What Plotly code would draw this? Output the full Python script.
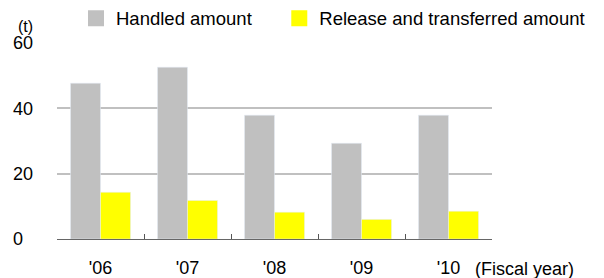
import plotly.graph_objects as go

years = ["'06", "'07", "'08", "'09", "'10"]
handled = [47.7, 52.6, 37.9, 29.3, 37.9]
released = [14.3, 11.8, 8.2, 6.0, 8.5]
y_ticks = [0, 20, 40, 60]
y_tick_text = ["0\u2007", "20", "40", "60"]

GREY = "#c0c0c0"
YELLOW = "#ffff00"
FONT = "Liberation Sans, Arial, sans-serif"

fig = go.Figure()
fig.add_trace(go.Bar(x=years, y=handled, marker_color=GREY, name="Handled amount",
                     showlegend=False))
fig.add_trace(go.Bar(x=years, y=released, marker_color=YELLOW,
                     name="Release and transferred amount", showlegend=False))
# legend entries
fig.add_trace(go.Scatter(x=[None], y=[None], mode="markers", name="Handled amount",
                         marker=dict(symbol="square", size=16, color=GREY),
                         legend="legend"))
fig.add_trace(go.Scatter(x=[None], y=[None], mode="markers",
                         name="Release and transferred amount",
                         marker=dict(symbol="square", size=16, color=YELLOW),
                         legend="legend2"))

leg_common = dict(orientation="h", yanchor="middle", y=1.124, xanchor="left",
                  font=dict(size=18.5), bgcolor="rgba(0,0,0,0)")

fig.update_layout(
    width=604, height=278,
    margin=dict(l=57, r=112, t=43, b=39, autoexpand=False),
    paper_bgcolor="white", plot_bgcolor="white",
    barmode="group", bargap=0.31, bargroupgap=0,
    font=dict(family=FONT, size=18, color="#000"),
    legend=dict(x=0.0437, **leg_common),
    legend2=dict(x=0.511, **leg_common),
    xaxis=dict(showgrid=False, ticks="inside", tickson="boundaries", ticklen=5,
               tickcolor="#555", showline=True, linecolor="#666", linewidth=1,
               ticklabelstandoff=12, tickfont=dict(size=18)),
    yaxis=dict(range=[0, 60], tickvals=y_ticks, ticktext=y_tick_text,
               showgrid=True, gridcolor="#c0c0c0", gridwidth=1.5,
               zeroline=False, showline=False, ticks="", ticklabelstandoff=23,
               tickfont=dict(size=18)),
    annotations=[
        dict(text="(t)", xref="paper", yref="paper", x=0, y=1.0,
             xanchor="left", yanchor="middle", xshift=-41, yshift=17, showarrow=False,
             font=dict(size=16)),
        dict(text="(Fiscal year)", xref="paper", yref="paper", x=1.0, y=0,
             xanchor="left", yanchor="middle", xshift=-19, yshift=-30, showarrow=False,
             font=dict(size=18)),
    ],
)
fig.write_html("out.html", config={"displayModeBar": False},
               post_script="document.body.style.margin='0';")
